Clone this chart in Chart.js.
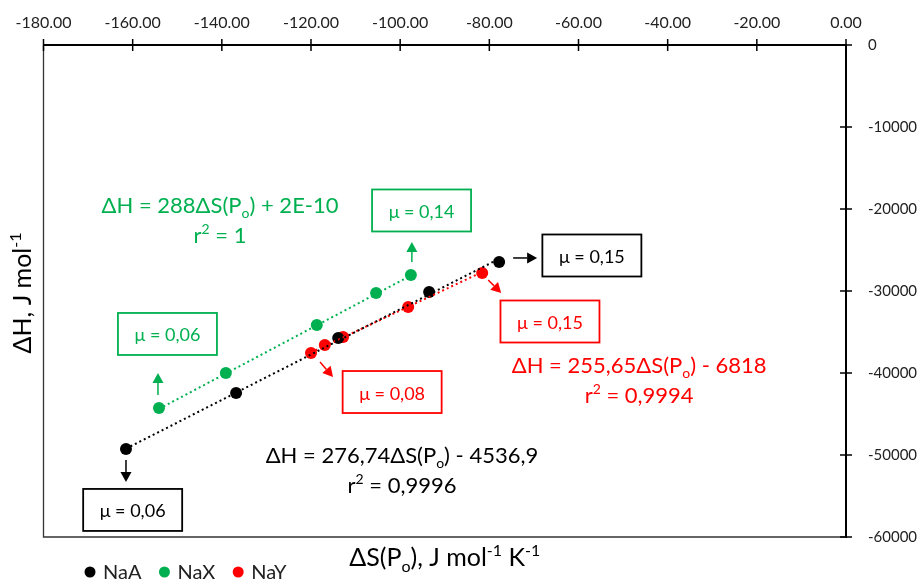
<!DOCTYPE html>
<html>
<head>
<meta charset="utf-8">
<script src="https://cdn.jsdelivr.net/npm/chart.js@4/dist/chart.umd.min.js"></script>
<style>
  html, body { margin: 0; padding: 0; background: #fff; }
  #wrap { width: 918px; height: 580px; position: relative; }
</style>
</head>
<body>
<div id="wrap"><canvas id="myChart"></canvas></div>
<script>
"use strict";

const seriesNames = ["NaA", "NaX", "NaY"];
const seriesColors = ["#000000", "#00B050", "#FF0000"];

// ΔS(Po) and ΔH values
const naaS = [-161.5, -136.8, -113.9, -93.5, -77.8];
const naaH = [-49270, -42440, -35730, -30120, -26460];
const naxS = [-154.1, -139.1, -118.7, -105.4, -97.6];
const naxH = [-44270, -40000, -34150, -30240, -28050];
const nayS = [-120.0, -116.9, -112.8, -98.2, -81.6];
const nayH = [-37560, -36590, -35610, -31950, -27800];

// trendline end points (x from first to last point)
const naaFitS = [-161.5, -77.8];
const naaFitH = [-49230, -26070];
const naxFitS = [-154.1, -97.6];
const naxFitH = [-44380, -28110];
const nayFitS = [-120.0, -81.6];
const nayFitH = [-37500, -27680];

const xMin = -180, xMax = 0, xStep = 20;
const yMin = -60000, yMax = 0, yStep = 10000;

const equations = [
  { color: 0, x: -99.6, y: -50000, line1: [["ΔH = 276,74ΔS(P", 0], ["o", -1], [") - 4536,9", 0]], line2: [["r", 0], ["2", 1], [" = 0,9996", 0]] },
  { color: 1, x: -140.4, y: -19500, line1: [["ΔH = 288ΔS(P", 0], ["o", -1], [") + 2E-10", 0]], line2: [["r", 0], ["2", 1], [" = 1", 0]] },
  { color: 2, x: -46.4, y: -39020, line1: [["ΔH = 255,65ΔS(P", 0], ["o", -1], [") - 6818", 0]], line2: [["r", 0], ["2", 1], [" = 0,9994", 0]] },
];

const muBoxes = [
  { color: 0, text: "μ = 0,06", x: -160.0, y: -56700 },
  { color: 0, text: "μ = 0,15", x: -57.0, y: -25670 },
  { color: 1, text: "μ = 0,06", x: -152.2, y: -35240 },
  { color: 1, text: "μ = 0,14", x: -95.2, y: -20180 },
  { color: 2, text: "μ = 0,15", x: -66.4, y: -33720 },
  { color: 2, text: "μ = 0,08", x: -101.8, y: -42320 },
];

// arrows hang off a point: pixel offsets from the point centre
const arrows = [
  { ds: 0, i: 0, from: [0, 11], to: [0, 33] },
  { ds: 0, i: 4, from: [14, -4], to: [38, -4] },
  { ds: 1, i: 0, from: [-1, -13], to: [-1, -35] },
  { ds: 1, i: 4, from: [1, -13], to: [1, -33] },
  { ds: 2, i: 0, from: [9, 9], to: [22, 24] },
  { ds: 2, i: 4, from: [6, 7], to: [19, 20] },
];

const FONT = "Lato, 'Open Sans', sans-serif";

function toPoints(xs, ys) {
  return xs.map((x, i) => ({ x: x, y: ys[i] }));
}

// draws runs of [text, mode] (mode -1 sub, 1 sup) centred on cx, cy
function drawRich(ctx, runs, cx, cy, size, color) {
  ctx.save();
  ctx.fillStyle = color;
  ctx.textBaseline = "alphabetic";
  ctx.textAlign = "left";
  let total = 0;
  let widths = [];
  for (let r of runs) {
    let s = r[1] === 0 ? size : Math.round(size * 0.65);
    ctx.font = s + "px " + FONT;
    let w = ctx.measureText(r[0]).width;
    widths.push(w);
    total += w;
  }
  let x = cx - total / 2;
  let base = cy + size * 0.36;
  runs.forEach((r, i) => {
    let s = r[1] === 0 ? size : Math.round(size * 0.65);
    ctx.font = s + "px " + FONT;
    let y = base;
    if (r[1] === -1) y = base + size * 0.22;
    if (r[1] === 1) y = base - size * 0.4;
    ctx.fillText(r[0], x, y);
    x += widths[i];
  });
  ctx.restore();
}

function drawArrow(ctx, x1, y1, x2, y2, color) {
  let ang = Math.atan2(y2 - y1, x2 - x1);
  let head = 10;
  let bx = x2 - head * Math.cos(ang);
  let by = y2 - head * Math.sin(ang);
  ctx.save();
  ctx.strokeStyle = color;
  ctx.fillStyle = color;
  ctx.lineWidth = 1.5;
  ctx.beginPath();
  ctx.moveTo(x1, y1);
  ctx.lineTo(bx, by);
  ctx.stroke();
  ctx.beginPath();
  ctx.moveTo(x2, y2);
  ctx.lineTo(bx + 5.5 * Math.sin(ang), by - 5.5 * Math.cos(ang));
  ctx.lineTo(bx - 5.5 * Math.sin(ang), by + 5.5 * Math.cos(ang));
  ctx.closePath();
  ctx.fill();
  ctx.restore();
}

const extrasPlugin = {
  id: "extras",
  afterDraw(chart) {
    const ctx = chart.ctx;
    const area = chart.chartArea;
    const xs = chart.scales.x;
    const ys = chart.scales.y;

    // left and bottom frame
    ctx.save();
    ctx.strokeStyle = "#333";
    ctx.lineWidth = 1.3;
    ctx.beginPath();
    ctx.moveTo(area.left, area.top);
    ctx.lineTo(area.left, area.bottom);
    ctx.lineTo(area.right, area.bottom);
    ctx.stroke();

    // tick marks crossing the axes
    ctx.strokeStyle = "#000";
    ctx.lineWidth = 1.5;
    for (let t of xs.ticks) {
      let px = xs.getPixelForValue(t.value);
      ctx.beginPath();
      ctx.moveTo(px, area.top - 6);
      ctx.lineTo(px, area.top + 6);
      ctx.stroke();
    }
    for (let t of ys.ticks) {
      let py = ys.getPixelForValue(t.value);
      ctx.beginPath();
      ctx.moveTo(area.right - 6, py);
      ctx.lineTo(area.right + 6, py);
      ctx.stroke();
    }
    ctx.restore();

    // boxes with μ
    for (let b of muBoxes) {
      let cx = xs.getPixelForValue(b.x);
      let cy = ys.getPixelForValue(b.y);
      let w = 99, h = 42;
      ctx.save();
      ctx.strokeStyle = seriesColors[b.color];
      ctx.lineWidth = 1.8;
      ctx.strokeRect(cx - w / 2, cy - h / 2, w, h);
      ctx.restore();
      drawRich(ctx, [[b.text, 0]], cx, cy + 1, 18, seriesColors[b.color]);
    }

    // arrows
    for (let a of arrows) {
      let pt = chart.getDatasetMeta(a.ds).data[a.i];
      drawArrow(ctx, pt.x + a.from[0], pt.y + a.from[1], pt.x + a.to[0], pt.y + a.to[1], seriesColors[a.ds]);
    }

    // trendline equations
    for (let e of equations) {
      let cx = xs.getPixelForValue(e.x);
      let cy = ys.getPixelForValue(e.y);
      drawRich(ctx, e.line1, cx, cy, 22, seriesColors[e.color]);
      drawRich(ctx, e.line2, cx, cy + 30, 22, seriesColors[e.color]);
    }

    // axis titles
    drawRich(ctx, [["ΔS(P", 0], ["o", -1], ["), J mol", 0], ["-1", 1], [" K", 0], ["-1", 1]],
      (area.left + area.right) / 2, area.bottom + 20, 25, "#000");
    ctx.save();
    ctx.translate(22, (area.top + area.bottom) / 2 + 2);
    ctx.rotate(-Math.PI / 2);
    drawRich(ctx, [["ΔH, J mol", 0], ["-1", 1]], 0, 0, 25, "#000");
    ctx.restore();

    // legend
    let lx = 85;
    let ly = 572;
    ctx.save();
    ctx.font = "20px " + FONT;
    ctx.textBaseline = "middle";
    seriesNames.forEach((name, i) => {
      ctx.fillStyle = seriesColors[i];
      ctx.beginPath();
      ctx.arc(lx + 5, ly, 5.5, 0, Math.PI * 2);
      ctx.fill();
      ctx.fillStyle = "#222";
      ctx.fillText(name, lx + 18, ly + 1);
      lx += 18 + ctx.measureText(name).width + 18;
    });
    ctx.restore();
  },
};

function pointSet(i, xs, ys) {
  return {
    label: seriesNames[i],
    data: toPoints(xs, ys),
    backgroundColor: seriesColors[i],
    borderColor: seriesColors[i],
    pointRadius: 6,
    pointHoverRadius: 6,
    borderWidth: 0,
    showLine: false,
    order: 2,
  };
}

function fitSet(i, xs, ys) {
  return {
    label: seriesNames[i] + " fit",
    data: toPoints(xs, ys),
    borderColor: seriesColors[i],
    backgroundColor: seriesColors[i],
    borderWidth: 2,
    borderDash: [2, 3],
    pointRadius: 0,
    showLine: true,
    order: 1,
  };
}

const ctx = document.getElementById("myChart").getContext("2d");

const myChart = new Chart(ctx, {
  type: "scatter",
  data: {
    datasets: [
      pointSet(0, naaS, naaH),
      pointSet(1, naxS, naxH),
      pointSet(2, nayS, nayH),
      fitSet(0, naaFitS, naaFitH),
      fitSet(1, naxFitS, naxFitH),
      fitSet(2, nayFitS, nayFitH),
    ],
  },
  options: {
    responsive: true,
    maintainAspectRatio: false,
    animation: false,
    layout: { padding: { left: 43.5, right: 0, top: 0, bottom: 43 } },
    plugins: {
      legend: { display: false },
      tooltip: { enabled: false },
    },
    scales: {
      x: {
        type: "linear",
        position: "top",
        min: xMin,
        max: xMax,
        ticks: {
          stepSize: xStep,
          padding: 5,
          color: "#222",
          font: { family: FONT, size: 16 },
          callback: (v) => v.toFixed(2),
        },
        grid: { display: false },
        border: { display: true, color: "#000", width: 2 },
        afterFit: (scale) => { scale.height = 45; },
      },
      y: {
        type: "linear",
        position: "right",
        min: yMin,
        max: yMax,
        ticks: {
          stepSize: yStep,
          padding: 14,
          color: "#222",
          font: { family: FONT, size: 15 },
          callback: (v) => String(v),
        },
        grid: { display: false },
        border: { display: true, color: "#000", width: 2 },
        afterFit: (scale) => { scale.width = 72; },
      },
    },
  },
  plugins: [extrasPlugin],
});
</script>
</body>
</html>
